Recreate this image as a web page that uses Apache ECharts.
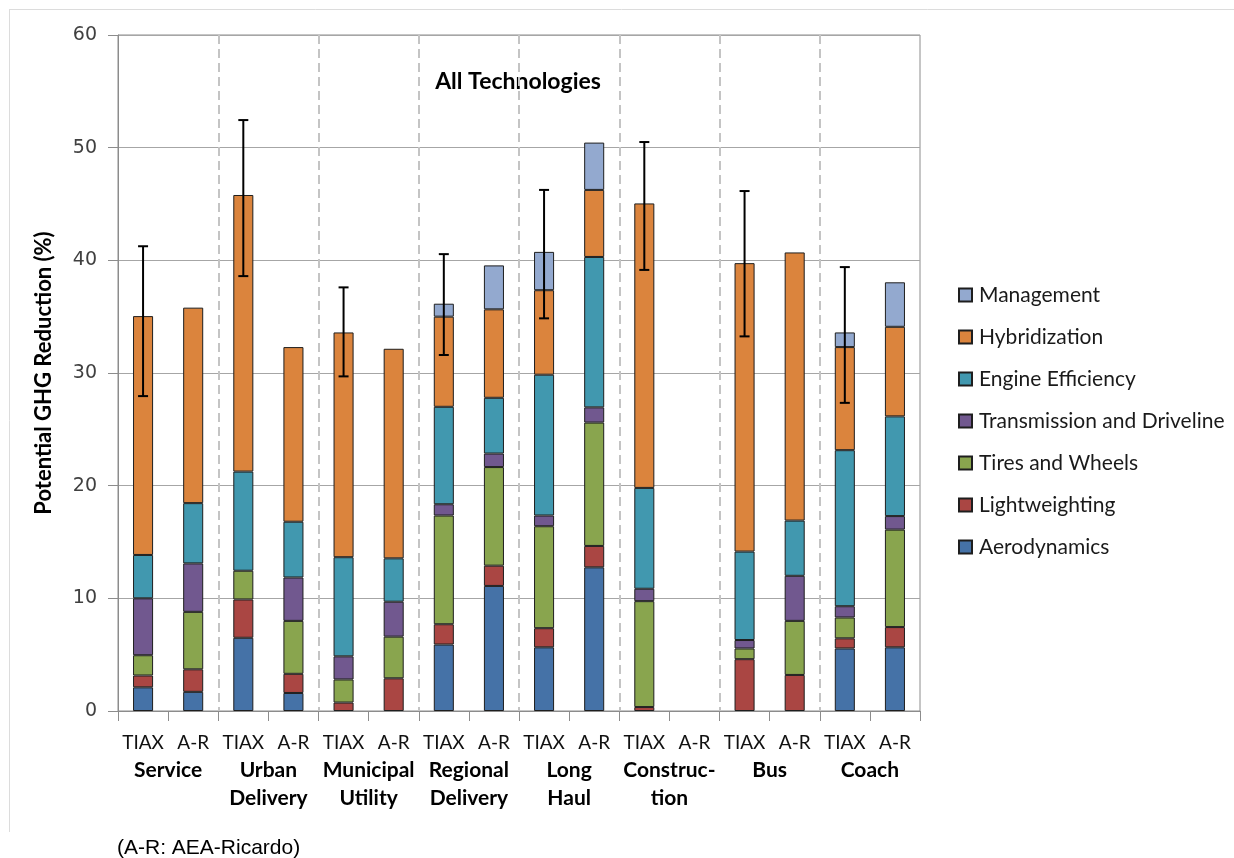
<!DOCTYPE html>
<html>
<head>
<meta charset="utf-8">
<title>All Technologies – Potential GHG Reduction</title>
<script src="https://cdn.jsdelivr.net/npm/echarts@6/dist/echarts.min.js"></script>
<style>
  html, body { margin: 0; padding: 0; background: #ffffff; }
  #chart { width: 1234px; height: 858px; }
</style>
</head>
<body>
<div id="chart"></div>
<script>
// Study labels (one bar each) and the vehicle groups they belong to
const studies = ['TIAX', 'A-R', 'TIAX', 'A-R', 'TIAX', 'A-R', 'TIAX', 'A-R',
                 'TIAX', 'A-R', 'TIAX', 'A-R', 'TIAX', 'A-R', 'TIAX', 'A-R'];
const groups = ['Service', 'Urban\nDelivery', 'Municipal\nUtility', 'Regional\nDelivery',
                'Long\nHaul', 'Construc-\ntion', 'Bus', 'Coach'];

// Potential GHG reduction (%) by technology, one value per bar (0 = not present)
const aerodynamics = [2.1, 1.7, 6.5, 1.6, 0, 0, 5.9, 11.1, 5.65, 12.75, 0, 0, 0, 0, 5.55, 5.65];
const lightweighting = [1.05, 2.0, 3.4, 1.7, 0.75, 2.9, 1.8, 1.8, 1.7, 1.9, 0.35, 0, 4.6, 3.2, 0.9, 1.8];
const tiresWheels = [1.8, 5.1, 2.55, 4.7, 2.05, 3.7, 9.65, 8.75, 9.05, 10.95, 9.4, 0, 0.95, 4.8, 1.85, 8.65];
const transmission = [5.05, 4.3, 0, 3.85, 2.05, 3.1, 1.0, 1.2, 0.95, 1.35, 1.1, 0, 0.75, 4.0, 1.0, 1.2];
const engine = [3.85, 5.35, 8.8, 4.95, 8.8, 3.85, 8.65, 4.95, 12.5, 13.35, 8.95, 0, 7.85, 4.9, 13.85, 8.85];
const hybridization = [21.2, 17.35, 24.55, 15.5, 19.95, 18.6, 8.0, 7.85, 7.5, 5.95, 25.25, 0, 25.6, 23.8, 9.15, 7.95];
const management = [0, 0, 0, 0, 0, 0, 1.15, 3.9, 3.4, 4.2, 0, 0, 0, 0, 1.3, 3.95];

// Uncertainty range for the TIAX totals (null where no range is given)
const errLow = [27.95, null, 38.6, null, 29.7, null, 31.6, null, 34.85, null, 39.15, null, 33.25, null, 27.35, null];
const errHigh = [41.25, null, 52.45, null, 37.6, null, 40.55, null, 46.25, null, 50.5, null, 46.15, null, 39.4, null];

const yTicks = { min: 0, max: 60, interval: 10 };

const technologies = [
  { name: 'Aerodynamics', data: aerodynamics, color: '#4572A7' },
  { name: 'Lightweighting', data: lightweighting, color: '#AA4643' },
  { name: 'Tires and Wheels', data: tiresWheels, color: '#89A54E' },
  { name: 'Transmission and Driveline', data: transmission, color: '#71588F' },
  { name: 'Engine Efficiency', data: engine, color: '#4198AF' },
  { name: 'Hybridization', data: hybridization, color: '#DB843D' },
  { name: 'Management', data: management, color: '#93A9CF' }
];

const chart = echarts.init(document.getElementById('chart'), null, { renderer: 'canvas' });

const barSeries = technologies.map(t => ({
  name: t.name,
  type: 'bar',
  stack: 'total',
  xAxisIndex: 0,
  yAxisIndex: 0,
  barWidth: '40%',
  data: t.data.map(v => (v === 0 ? '-' : v)),
  itemStyle: { color: t.color, borderColor: '#1e1e1e', borderWidth: 1 },
  emphasis: { disabled: true }
}));

const errorData = errLow
  .map((lo, i) => (lo === null ? null : [i, lo, errHigh[i]]))
  .filter(d => d !== null);

const errorSeries = {
  name: 'range',
  type: 'custom',
  xAxisIndex: 0,
  yAxisIndex: 0,
  z: 10,
  silent: true,
  data: errorData,
  renderItem: function (params, api) {
    const i = api.value(0);
    const lo = api.coord([i, api.value(1)]);
    const hi = api.coord([i, api.value(2)]);
    const cap = 5;
    const style = { stroke: '#000000', lineWidth: 2 };
    return {
      type: 'group',
      children: [
        { type: 'line', shape: { x1: lo[0], y1: lo[1], x2: hi[0], y2: hi[1] }, style: style },
        { type: 'line', shape: { x1: hi[0] - cap, y1: hi[1], x2: hi[0] + cap, y2: hi[1] }, style: style },
        { type: 'line', shape: { x1: lo[0] - cap, y1: lo[1], x2: lo[0] + cap, y2: lo[1] }, style: style }
      ]
    };
  }
};

const option = {
  backgroundColor: '#ffffff',
  animation: false,
  grid: {
    left: 118, right: 314, top: 35, bottom: 147,
    show: true, borderColor: '#8c8c8c', borderWidth: 1, backgroundColor: 'transparent'
  },
  legend: {
    orient: 'vertical',
    left: 958,
    top: 283,
    padding: 0,
    itemWidth: 13,
    itemHeight: 13,
    itemGap: 18,
    icon: 'rect',
    data: technologies.map(t => t.name).reverse(),
    textStyle: { fontFamily: 'Lato', fontSize: 21, color: '#1a1a1a', lineHeight: 24, padding: [0, 0, 0, 2] }
  },
  xAxis: [
    {
      type: 'category',
      data: studies,
      position: 'bottom',
      axisLine: { show: true, lineStyle: { color: '#8c8c8c', width: 1 } },
      axisTick: { show: true, interval: 0, length: 10, lineStyle: { color: '#8c8c8c' } },
      axisLabel: {
        interval: 0, margin: 22, fontFamily: 'Lato', fontSize: 19, color: '#111111'
      },
      splitLine: { show: false }
    },
    {
      type: 'category',
      data: groups,
      position: 'bottom',
      axisLine: { show: false },
      axisTick: { show: false },
      axisLabel: {
        interval: 0, margin: 45, lineHeight: 28,
        fontFamily: 'Lato', fontWeight: 'bold', fontSize: 21, color: '#000000'
      },
      splitLine: { show: false }
    },
    {
      // group dividers
      type: 'value',
      min: 0, max: 16, interval: 2,
      position: 'top',
      axisLine: { show: false },
      axisTick: { show: false },
      axisLabel: { show: false },
      splitLine: {
        show: true, showMinLine: false, showMaxLine: false,
        lineStyle: { color: '#c4c4c4', width: 2, type: [9, 5] }
      }
    }
  ],
  yAxis: {
    type: 'value',
    min: yTicks.min, max: yTicks.max, interval: yTicks.interval,
    name: 'Potential GHG Reduction (%)',
    nameLocation: 'middle',
    nameRotate: 90,
    nameGap: 63,
    nameTextStyle: { fontFamily: 'Lato', fontWeight: 'bold', fontSize: 22, color: '#000000' },
    axisLine: { show: true, lineStyle: { color: '#8c8c8c', width: 1 } },
    axisTick: { show: true, length: 10, lineStyle: { color: '#8c8c8c' } },
    axisLabel: { margin: 21, fontFamily: 'DejaVu Sans', fontSize: 19, color: '#404040' },
    splitLine: { show: true, lineStyle: { color: '#a6a6a6', width: 1 } }
  },
  graphic: [
    { type: 'line', shape: { x1: 9.5, y1: 9, x2: 9.5, y2: 832 }, style: { stroke: '#dcdcdc', lineWidth: 1 }, silent: true },
    { type: 'line', shape: { x1: 9, y1: 9.5, x2: 1234, y2: 9.5 }, style: { stroke: '#dcdcdc', lineWidth: 1 }, silent: true },
    {
      type: 'text', x: 518, y: 82,
      style: { text: 'All Technologies', font: "bold 23px Lato", fill: '#000000', textAlign: 'center', textVerticalAlign: 'middle' }
    },
    {
      type: 'text', x: 117, y: 848,
      style: { text: '(A-R: AEA-Ricardo)', font: "21px 'Liberation Sans'", fill: '#000000', textVerticalAlign: 'middle' }
    }
  ],
  series: barSeries.concat([errorSeries])
};

chart.setOption(option);
</script>
</body>
</html>
